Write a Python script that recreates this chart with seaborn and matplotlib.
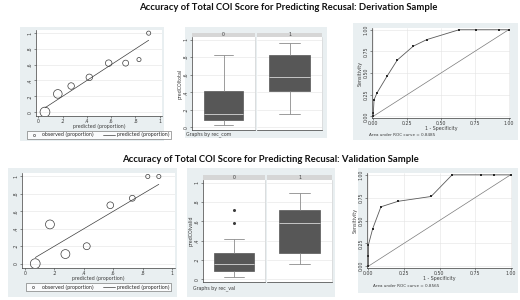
import numpy as np
import pandas as pd
import matplotlib
matplotlib.use("Agg")
import matplotlib.pyplot as plt
import seaborn as sns
from matplotlib.patches import Rectangle
from matplotlib.lines import Line2D

# ---- calibration data (derivation / validation) ----
deriv_pred = [0.054, 0.16, 0.27, 0.42, 0.58, 0.72, 0.83, 0.91]
deriv_obs = [0.0, 0.23, 0.33, 0.44, 0.62, 0.62, 0.665, 1.0]
deriv_n = [60, 48, 30, 30, 30, 26, 16, 16]

valid_pred = [0.07, 0.17, 0.275, 0.42, 0.58, 0.73, 0.835, 0.91]
valid_obs = [0.0, 0.45, 0.11, 0.2, 0.67, 0.75, 1.0, 1.0]
valid_n = [60, 50, 50, 32, 30, 24, 14, 14]

# ---- predicted score by recusal group (box plots) ----
deriv_box_0 = [0.023, 0.088, 0.158, 0.41, 0.83]
deriv_box_1 = [0.158, 0.41, 0.57, 0.82, 0.96]
valid_box_0 = [0.025, 0.05, 0.07, 0.088, 0.11, 0.13, 0.158, 0.19, 0.23, 0.27, 0.42, 0.58, 0.72]
valid_box_1 = [0.158, 0.27, 0.58, 0.716, 0.90]

# ---- ROC curves ----
deriv_fpr = [0.0, 0.0, 0.005, 0.027, 0.10, 0.177, 0.295, 0.395, 0.634, 0.755, 0.925, 1.0]
deriv_tpr = [0.0, 0.04, 0.19, 0.27, 0.46, 0.65, 0.81, 0.886, 1.0, 1.0, 1.0, 1.0]
valid_fpr = [0.0, 0.0, 0.0, 0.03, 0.088, 0.208, 0.441, 0.589, 0.794, 0.882, 1.0]
valid_tpr = [0.0, 0.115, 0.234, 0.41, 0.65, 0.71, 0.763, 1.0, 1.0, 1.0, 1.0]
diag = [0.0, 1.0]

auc_labels = ["Area under ROC curve = 0.8485", "Area under ROC curve = 0.8565"]
titles = ["Accuracy of Total COI Score for Predicting Recusal: Derivation Sample",
          "Accuracy of Total COI Score for Predicting Recusal: Validation Sample"]
cal_ticks = [0, 0.2, 0.4, 0.6, 0.8, 1]
cal_ticklabels = ["0", ".2", ".4", ".6", ".8", "1"]
roc_ticks = [0, 0.25, 0.5, 0.75, 1]
roc_ticklabels = ["0.00", "0.25", "0.50", "0.75", "1.00"]

sns.set_theme(style="white")
plt.rcParams["font.family"] = ["DejaVu Sans"]

W, H = 520, 300
BG = "#e9eff1"
INK = "#3c3c3c"
GRID = "#e4e4e4"
FS = 3.4

fig = plt.figure(figsize=(5.2, 3.0), dpi=100)


def frame(l, t, r, b):
    return [l / W, 1 - b / H, (r - l) / W, (b - t) / H]


def backdrop(l, t, r, b):
    fig.patches.append(Rectangle((l / W, 1 - b / H), (r - l) / W, (b - t) / H,
                                 transform=fig.transFigure, facecolor=BG,
                                 edgecolor="none", zorder=-10))


def style_axis(ax):
    ax.set_facecolor("white")
    for s in ["top", "right"]:
        ax.spines[s].set_visible(False)
    for s in ["left", "bottom"]:
        ax.spines[s].set_color(INK)
        ax.spines[s].set_linewidth(0.5)
    ax.tick_params(labelsize=FS, length=1.5, width=0.4, pad=0.8, colors=INK,
                   left=True, bottom=True)
    for lab in ax.get_yticklabels():
        lab.set_rotation(90)
        lab.set_va("center")


def calibration(box, pred, obs, n, legend_y):
    ax = fig.add_axes(frame(*box))
    df = pd.DataFrame({"pred": pred, "obs": obs, "n": n})
    sns.lineplot(data=df, x="pred", y="pred", ax=ax, color=INK, linewidth=0.5)
    sns.scatterplot(data=df, x="pred", y="obs", size="n", sizes=(9, 50), ax=ax,
                    legend=False, facecolor="none", edgecolor=INK, linewidth=0.5)
    for coll in ax.collections:
        coll.set_facecolor("none")
    ax.set_xlim(-0.02, 1.02)
    ax.set_ylim(-0.05, 1.04)
    ax.set_xticks(cal_ticks, cal_ticklabels)
    ax.set_yticks(cal_ticks, cal_ticklabels)
    ax.set_xlabel("predicted (proportion)", fontsize=FS, labelpad=0, color=INK)
    ax.set_ylabel("")
    ax.grid(axis="y", color=GRID, linewidth=0.4)
    style_axis(ax)
    handles = [Line2D([], [], marker="o", linestyle="none", markersize=1.6,
                      markerfacecolor="none", markeredgecolor=INK, markeredgewidth=0.4),
               Line2D([], [], color=INK, linewidth=0.5)]
    leg = ax.legend(handles, ["observed (proportion)", "predicted (proportion)"],
                    ncol=2, fontsize=FS, loc="center",
                    bbox_to_anchor=(0.5, legend_y), frameon=True, fancybox=False,
                    handlelength=2.5, columnspacing=2, borderpad=0.3,
                    handletextpad=0.5)
    leg.get_frame().set_edgecolor(INK)
    leg.get_frame().set_linewidth(0.4)
    return ax


def boxes(left_box, right_box, groups, ylabel, footer, footer_xy):
    axes = [fig.add_axes(frame(*left_box)), fig.add_axes(frame(*right_box))]
    for i, (ax, vals) in enumerate(zip(axes, groups)):
        sns.boxplot(y=vals, ax=ax, width=0.63, color="#575757", linecolor="#575757",
                    linewidth=0.5, fliersize=1.2,
                    medianprops={"color": "#d8d8d8", "linewidth": 0.6},
                    whiskerprops={"color": "#8c8c8c", "linewidth": 0.6},
                    capprops={"color": "#8c8c8c", "linewidth": 0.6},
                    flierprops={"marker": "o", "markerfacecolor": INK,
                                "markeredgecolor": INK})
        ax.set_xlim(-0.5, 0.5)
        ax.set_ylim(-0.03, 1.03)
        ax.set_yticks(cal_ticks, cal_ticklabels)
        ax.set_xticks([])
        ax.grid(axis="y", color=GRID, linewidth=0.4)
        ax.set_axisbelow(True)
        style_axis(ax)
        ax.spines["right"].set_visible(True)
        ax.spines["right"].set_color("#d0d0d0")
        ax.spines["right"].set_linewidth(0.4)
        ax.add_patch(Rectangle((0, 1.0), 1, 0.045, transform=ax.transAxes,
                               facecolor="#d6d6d6", edgecolor="none", clip_on=False))
        ax.text(0.5, 1.022, str(i), transform=ax.transAxes, ha="center",
                va="center", fontsize=FS, color=INK)
        if i == 1:
            ax.spines["left"].set_visible(False)
            ax.tick_params(left=False, labelleft=False)
    axes[0].set_ylabel(ylabel, fontsize=FS, labelpad=1, color=INK)
    fig.text(footer_xy[0] / W, 1 - footer_xy[1] / H, footer, fontsize=FS,
             color=INK, va="center")
    return axes


def roc(box, fpr, tpr, label, label_xy):
    ax = fig.add_axes(frame(*box))
    sns.lineplot(x=diag, y=diag, ax=ax, color="#7a7a7a", linewidth=0.5)
    sns.lineplot(x=fpr, y=tpr, ax=ax, color="#5a5a5a", linewidth=0.6,
                 marker="s", markersize=1.8, markeredgewidth=0, sort=False,
                 estimator=None, markerfacecolor="#2a2a2a")
    ax.set_xlim(-0.01, 1.01)
    ax.set_ylim(-0.02, 1.02)
    ax.set_xticks(roc_ticks, roc_ticklabels)
    ax.set_yticks(roc_ticks, roc_ticklabels)
    ax.set_xlabel("1 - Specificity", fontsize=FS, labelpad=0, color=INK)
    ax.set_ylabel("Sensitivity", fontsize=FS, labelpad=1, color=INK)
    ax.grid(color=GRID, linewidth=0.4)
    style_axis(ax)
    fig.text(label_xy[0] / W, 1 - label_xy[1] / H, label, fontsize=FS - 0.4,
             color=INK, va="center")
    return ax


# ---- top row: derivation sample ----
fig.text(288 / W, 1 - 7 / H, titles[0], ha="center", va="center",
         fontsize=6.8, fontweight="bold", family=["Lato", "DejaVu Sans"], color="#111111")
backdrop(20, 27, 164, 141)
calibration((36, 30, 162, 116), deriv_pred, deriv_obs, deriv_n, -0.22)
backdrop(185, 27, 327, 138)
boxes((192, 37, 255, 130), (257, 37, 322, 130), [deriv_box_0, deriv_box_1],
      "predCOItotal", "Graphs by rec_com", (186, 134))
backdrop(353, 23, 518, 140)
roc((372, 28, 510, 118), deriv_fpr, deriv_tpr, auc_labels[0], (369, 135))

# ---- bottom row: validation sample ----
fig.text(270 / W, 1 - 159 / H, titles[1], ha="center", va="center",
         fontsize=6.8, fontweight="bold", family=["Lato", "DejaVu Sans"], color="#111111")
backdrop(8, 168, 177, 297)
calibration((22, 173, 175, 268), valid_pred, valid_obs, valid_n, -0.2)
backdrop(187, 168, 335, 297)
boxes((203, 180, 265, 282), (267, 180, 332, 282), [valid_box_0, valid_box_1],
      "predCOIvalid", "Graphs by rec_val", (193, 288))
backdrop(358, 168, 518, 293)
roc((367, 173, 512, 268), valid_fpr, valid_tpr, auc_labels[1], (373, 286))

fig.savefig("out.png", dpi=100, facecolor="white")
